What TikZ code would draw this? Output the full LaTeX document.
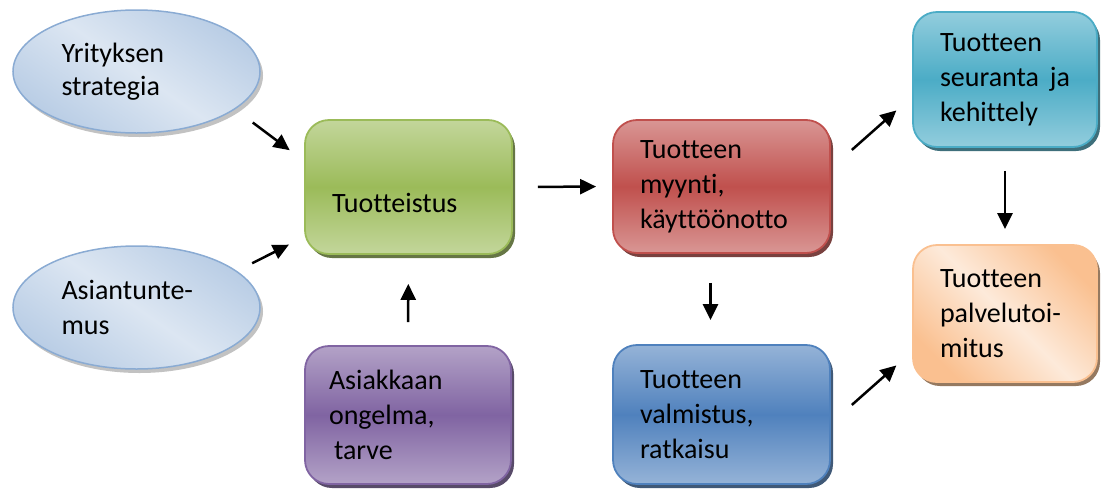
\documentclass[tikz,border=0pt]{standalone}
\usepackage{fontspec}
\setmainfont{Carlito}[Ligatures=CommonOff]
\usetikzlibrary{shapes.geometric, arrows.meta, shadows}
\definecolor{Flow_Green}{HTML}{9BBB59}
\definecolor{Flow_GreenLight}{HTML}{C3D69B}
\definecolor{Flow_Red}{HTML}{C0504D}
\definecolor{Flow_RedLight}{HTML}{D99694}
\definecolor{Flow_Aqua}{HTML}{4BACC6}
\definecolor{Flow_AquaLight}{HTML}{93CDDD}
\definecolor{Flow_Purple}{HTML}{8064A2}
\definecolor{Flow_PurpleLight}{HTML}{B3A2C7}
\definecolor{Flow_Blue}{HTML}{4F81BD}
\definecolor{Flow_BlueLight}{HTML}{95B3D7}
\definecolor{Flow_Orange}{HTML}{FAC090}
\definecolor{Flow_OrangeLight}{HTML}{FDEADA}
\definecolor{Flow_Sky}{HTML}{B9CDE5}
\definecolor{Flow_SkyLight}{HTML}{DCE6F2}

\begin{document}
\begin{tikzpicture}[
    x=1pt, y=-1pt,
    every node/.style={font=\fontsize{28}{35}\selectfont},
    phase/.style={rectangle, rounded corners=24pt, draw=Flow_#1, line width=1.8pt,
        top color=Flow_#1Light, bottom color=Flow_#1Light, middle color=Flow_#1,
        drop shadow={shadow xshift=3pt, shadow yshift=-4pt, fill=Flow_#1!55!black, opacity=0.9},
        align=left, inner xsep=0pt, anchor=center},
    source/.style={ellipse, draw=Flow_BlueLight!85!Flow_Blue, line width=1.5pt,
        top color=Flow_Sky, bottom color=Flow_Sky, middle color=Flow_SkyLight, shading angle=-35,
        drop shadow={shadow xshift=3pt, shadow yshift=-4pt, fill=black!40, opacity=0.6},
        minimum width=247pt, minimum height=123pt, text width=150pt, align=left, inner sep=0pt},
    flow/.style={line width=2.5pt, -{Triangle[length=16pt, width=15pt]}}
]
\useasboundingbox (0,0) rectangle (1104,488);

% Left column (inputs)
\node[source, font=\fontsize{28}{33}\selectfont] (strategia) at (136.5, 71.5) {Yrityksen\\strategia};
\node[source] (asiantuntemus) at (136.5, 307.5) {Asiantunte-\\mus};

% Middle columns
\node[phase=Green, minimum width=207pt, minimum height=134pt, text width=153pt, text height=50pt, text depth=0pt] (tuotteistus) at (408.5, 187) {Tuotteistus};
\node[phase=Purple, minimum width=206pt, minimum height=138pt, text width=158pt] (ongelma) at (408, 415) {Asiakkaan\\ongelma,\\\hspace*{5pt}tarve};
\node[phase=Red, minimum width=217pt, minimum height=133pt, text width=163pt] (myynti) at (721.5, 186.5) {Tuotteen\\myynti,\\käyttöönotto};
\node[phase=Blue, minimum width=217pt, minimum height=139pt, text width=163pt] (valmistus) at (721.5, 414.5) {Tuotteen\\valmistus,\\ratkaisu};

% Right column
\node[phase=Aqua, minimum width=184pt, minimum height=135pt, text width=130pt] (seuranta) at (1005, 79.5) {Tuotteen\\seuranta\hfill ja\hspace*{-6pt}\\kehittely};
\node[phase=Orange, top color=Flow_Orange, bottom color=Flow_Orange, middle color=Flow_OrangeLight, shading angle=-45,
    minimum width=184pt, minimum height=137pt, text width=130pt] (palvelu) at (1005, 313.5) {Tuotteen\\palvelutoi-\\mitus};

% Connectors
\draw[flow, shorten <=22pt, shorten >=18pt] (strategia.-21) -- ([yshift=26pt]tuotteistus.west);
\draw[flow, shorten <=17pt, shorten >=17pt] (asiantuntemus.20) -- ([yshift=-50pt]tuotteistus.west);
\draw[flow, shorten <=25pt, shorten >=16pt] (tuotteistus.east) -- (myynti.west);
\draw[flow, shorten <=23pt, shorten >=29pt] (ongelma.north) -- (tuotteistus.south);
\draw[flow, shorten <=29pt, shorten >=24pt] ([xshift=-11pt]myynti.south) -- ([xshift=-11pt]valmistus.north);
\draw[flow, shorten <=28pt, shorten >=21pt] ([yshift=18pt]myynti.east) -- ([yshift=-17pt]seuranta.west);
\draw[flow, shorten <=28pt, shorten >=21pt] ([yshift=-9pt]valmistus.east) -- ([yshift=-38pt]palvelu.west);
\draw[flow, shorten <=23pt, shorten >=15pt] (seuranta.south) -- (palvelu.north);

\end{tikzpicture}
\end{document}
